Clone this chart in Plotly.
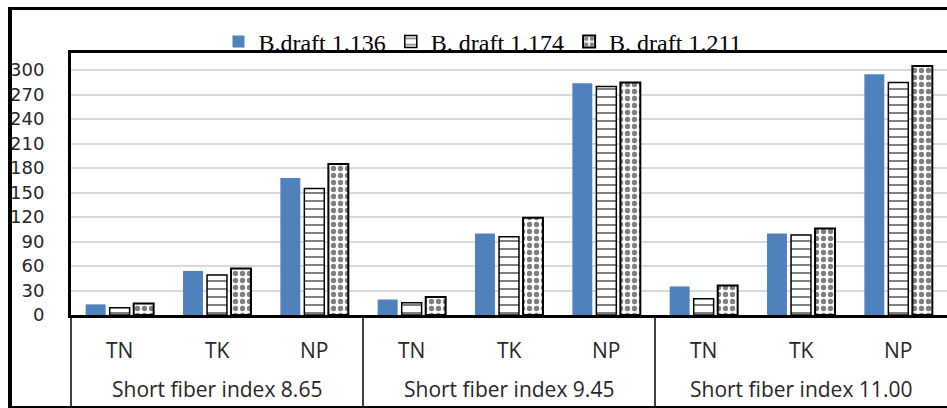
import plotly.graph_objects as go

# Groups and measured traits
groups = ["Short fiber index 8.65", "Short fiber index 9.45", "Short fiber index 11.00"]
traits = ["TN", "TK", "NP"]

# Values per break draft, in order group x trait
draft_1136 = [13, 54, 168, 19, 100, 284, 35, 100, 295]
draft_1174 = [9, 49, 155, 15, 96, 280, 20, 98, 285]
draft_1211 = [14, 57, 185, 22, 119, 285, 36, 106, 305]

series_names = ["B.draft 1.136", "B. draft 1.174", "B. draft 1.211"]
y_ticks = [0, 30, 60, 90, 120, 150, 180, 210, 240, 270, 300]

x_group = [g for g in groups for _ in traits]
x_trait = [t for _ in groups for t in traits]

W, H = 947, 408
L, R, T, B = 71, 0, 53, 93

fig = go.Figure()
fig.add_trace(go.Bar(
    x=[x_group, x_trait], y=draft_1136, name=series_names[0],
    marker=dict(color="#4F81BD", line=dict(width=0)),
))
fig.add_trace(go.Bar(
    x=[x_group, x_trait], y=draft_1174, name=series_names[1],
    marker=dict(color="white", line=dict(color="black", width=1.5),
                pattern=dict(shape="-", fgcolor="black", bgcolor="white",
                             size=8, solidity=0.25, fillmode="overlay")),
))
fig.add_trace(go.Bar(
    x=[x_group, x_trait], y=draft_1211, name=series_names[2],
    marker=dict(color="white", line=dict(color="black", width=2),
                pattern=dict(shape=".", fgcolor="black", bgcolor="white",
                             size=7, solidity=0.45, fillmode="overlay")),
))

pw = W - L - R
ph = H - T - B


def px(x):
    return (x - L) / pw


def py(y):
    return (H - B - y) / ph


shapes = [
    # outer frame
    dict(type="line", xref="paper", yref="paper", x0=px(10), x1=px(10), y0=py(7), y1=py(409),
         line=dict(color="black", width=4)),
    dict(type="line", xref="paper", yref="paper", x0=px(8), x1=px(950), y0=py(8.5), y1=py(8.5),
         line=dict(color="black", width=3)),
    dict(type="line", xref="paper", yref="paper", x0=px(8), x1=px(950), y0=py(407), y1=py(407),
         line=dict(color="black", width=2)),
    # category table lines
    dict(type="line", xref="paper", yref="paper", x0=px(71), x1=px(71), y0=py(315), y1=py(407),
         line=dict(color="black", width=1.5)),
]
for k in (1, 2):
    xk = L + pw * k / 3
    shapes.append(dict(type="line", xref="paper", yref="paper", x0=px(xk), x1=px(xk),
                       y0=py(315), y1=py(407), line=dict(color="black", width=1.5)))

# Two-row category labels under the axis: trait row, then group row
n_cat = len(x_trait)
label_font = dict(size=21, family="Open Sans", color="#262626")
annotations = []
for i, t in enumerate(x_trait):
    annotations.append(dict(text=t, xref="paper", yref="paper", x=(i + 0.5) / n_cat,
                            y=py(350), xanchor="center", yanchor="middle",
                            showarrow=False, font=label_font))
for j, g in enumerate(groups):
    annotations.append(dict(text=g, xref="paper", yref="paper", x=(j + 0.5) / len(groups),
                            y=py(389), xanchor="center", yanchor="middle",
                            showarrow=False, font=label_font))

fig.update_layout(
    width=W, height=H,
    margin=dict(l=L, r=R, t=T, b=B, pad=0, autoexpand=False),
    paper_bgcolor="white", plot_bgcolor="white",
    barmode="group", bargap=0.26, bargroupgap=0.17,
    font=dict(family="Open Sans", size=18, color="#262626"),
    showlegend=True,
    legend=dict(orientation="h", x=0.51, xanchor="center", xref="container",
                y=1 - 42 / H, yref="container", yanchor="middle",
                font=dict(family="Liberation Serif", size=24, color="black"),
                bgcolor="rgba(0,0,0,0)", itemwidth=30, tracegroupgap=0),
    xaxis=dict(type="multicategory", showline=True, linecolor="black", linewidth=3,
               mirror=True, showgrid=False, ticks="", showdividers=False,
               showticklabels=False),
    yaxis=dict(range=[0, 321], tickvals=y_ticks, showline=True, linecolor="black",
               linewidth=3, showgrid=True, gridcolor="#D9D9D9", gridwidth=2,
               zeroline=False, ticks="", ticklabelstandoff=20,
               tickfont=dict(size=18, family="DejaVu Sans", color="#262626")),
    shapes=shapes,
    annotations=annotations,
)

fig.write_html("out.html")
